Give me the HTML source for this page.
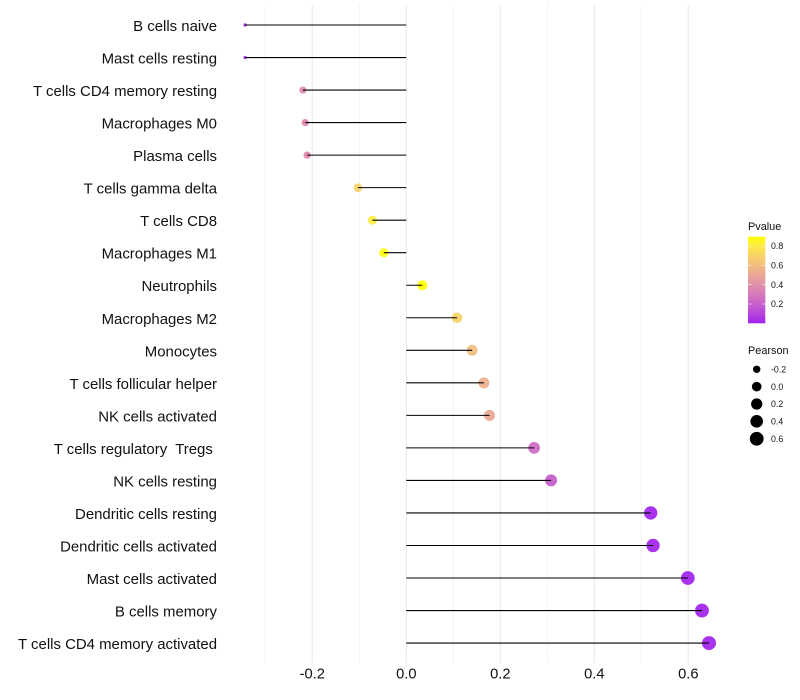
<!DOCTYPE html>
<html lang="en">
<head>
<meta charset="utf-8">
<title>Immune cell correlation lollipop chart</title>
<style>
html,body{margin:0;padding:0;background:#fff;}
#chart{display:block;width:800px;height:700px;font-family:"Liberation Sans",Arial,sans-serif;}
#chart text{white-space:pre;}
</style>
</head>
<body>
<svg id="chart" xmlns="http://www.w3.org/2000/svg" width="800" height="700" viewBox="0 0 800 700">
  <defs>
    <linearGradient id="pvalue-gradient" x1="0" y1="1" x2="0" y2="0"></linearGradient>
  </defs>
  <g id="grid"></g>
  <g id="points"></g>
  <g id="segments"></g>
  <g id="y-axis"></g>
  <g id="x-axis"></g>
  <g id="legend-p"></g>
  <g id="legend-s"></g>
</svg>
<script>
const categories = ["B cells naive","Mast cells resting","T cells CD4 memory resting","Macrophages M0","Plasma cells","T cells gamma delta","T cells CD8","Macrophages M1","Neutrophils","Macrophages M2","Monocytes","T cells follicular helper","NK cells activated","T cells regulatory  Tregs ","NK cells resting","Dendritic cells resting","Dendritic cells activated","Mast cells activated","B cells memory","T cells CD4 memory activated"];
const pearsonValues = [-0.343,-0.343,-0.220,-0.215,-0.211,-0.103,-0.072,-0.048,0.034,0.108,0.140,0.165,0.177,0.272,0.308,0.520,0.525,0.599,0.629,0.644];
const pValues = [0.03,0.03,0.37,0.37,0.37,0.70,0.82,0.89,0.90,0.70,0.60,0.54,0.50,0.24,0.19,0.005,0.005,0.003,0.003,0.003];
const xMajorTicks = [-0.2,0,0.2,0.4,0.6];
const xMinorTicks = [-0.3,-0.1,0.1,0.3,0.5];
const pLegendTicks = [0.2,0.4,0.6,0.8];
const sizeLegendValues = [-0.2,0,0.2,0.4,0.6];

const NS = "http://www.w3.org/2000/svg";
const xScale = v => 406.3 + 470 * v;
const yScale = i => 25 + 32.53 * i;
const pLegendY = p => 323.3 - 96.5 * p;
const sizeMin = -0.343, sizeMax = 0.644;
const radius = v => 1.7 + 5.3 * Math.sqrt(Math.max(0, (v - sizeMin) / (sizeMax - sizeMin)));

function lab2rgb(L, a, b) {
  const fy = (L + 16) / 116, fx = fy + a / 500, fz = fy - b / 200;
  const inv = t => t > 0.20689 ? t * t * t : (t - 16 / 116) / 7.787;
  const X = 0.95047 * inv(fx), Y = inv(fy), Z = 1.08883 * inv(fz);
  const lin = [3.2406 * X - 1.5372 * Y - 0.4986 * Z, -0.9689 * X + 1.8758 * Y + 0.0415 * Z, 0.0557 * X - 0.2040 * Y + 1.0570 * Z];
  const g = c => {
    c = Math.min(1, Math.max(0, c));
    return Math.round(255 * (c <= 0.0031308 ? 12.92 * c : 1.055 * Math.pow(c, 1 / 2.4) - 0.055));
  };
  return "rgb(" + lin.map(g).join(",") + ")";
}
function pColor(p) {
  const t = Math.min(1, Math.max(0, p / 0.9));
  return lab2rgb(45.35 + (97.14 - 45.35) * t, 78.2 + (-21.55 - 78.2) * t, -76.0 + (94.48 + 76.0) * t);
}
function make(tag, attrs, parent, txt) {
  const el = document.createElementNS(NS, tag);
  for (const k in attrs) el.setAttribute(k, attrs[k]);
  if (txt !== undefined) el.textContent = txt;
  parent.appendChild(el);
  return el;
}
const fmt = v => v.toFixed(1);
const gridG = document.getElementById("grid");
const pointsG = document.getElementById("points");
const segG = document.getElementById("segments");
const yG = document.getElementById("y-axis");
const xG = document.getElementById("x-axis");
const lp = document.getElementById("legend-p");
const ls = document.getElementById("legend-s");

xMinorTicks.forEach(v => {
  const el = make("line", {x1: xScale(v), x2: xScale(v), y1: 5, y2: 663, stroke: "#ebebeb", "stroke-width": 0.55}, gridG);
  
  
});
xMajorTicks.forEach(v => {
  const el = make("line", {x1: xScale(v), x2: xScale(v), y1: 5, y2: 663, stroke: "#ebebeb", "stroke-width": 1.07}, gridG);
  
  
  const lab = make("text", {x: xScale(v), y: 678.6, "text-anchor": "middle", "font-size": 14.67, fill: "#111"}, xG, fmt(v));
  
  
});
categories.forEach((c, i) => {
  const v = pearsonValues[i], y = yScale(i);
  const pt = make("circle", {cx: xScale(v), cy: y, r: radius(v), fill: pColor(pValues[i]), "fill-opacity": 0.93}, pointsG);
  
  
  const seg = make("line", {x1: xScale(0), x2: xScale(v), y1: y, y2: y, stroke: "#000", "stroke-width": 1.07}, segG);
  
  
  const lab = make("text", {x: 217, y: y + 6, "text-anchor": "end", "font-size": 14.95, fill: "#111"}, yG, c);
  
  
});

const grad = document.getElementById("pvalue-gradient");
const gradSteps = [0,1,2,3,4,5,6,7,8,9,10];
gradSteps.forEach(s => {
  make("stop", {offset: (s * 10) + "%", "stop-color": pColor(s * 0.09)}, grad);
});
const pTitle = make("text", {x: 748, y: 230, "font-size": 10.9, fill: "#111"}, lp, "Pvalue");


const bar = make("rect", {x: 748, y: 236.7, width: 17.3, height: 86.6, fill: "url(#pvalue-gradient)"}, lp);


pLegendTicks.forEach(p => {
  const y = pLegendY(p);
  const t1 = make("line", {x1: 748, x2: 751.5, y1: y, y2: y, stroke: "#fff", "stroke-width": 0.55}, lp);
  
  
  const t2 = make("line", {x1: 761.8, x2: 765.3, y1: y, y2: y, stroke: "#fff", "stroke-width": 0.55}, lp);
  
  
  const lab = make("text", {x: 771, y: y + 3.1, "font-size": 8.8, fill: "#111"}, lp, fmt(p));
  
  
});

const sTitle = make("text", {x: 748, y: 354, "font-size": 10.9, fill: "#111"}, ls, "Pearson");


const sizeLegendY = k => 369.3 + 17.35 * k;
sizeLegendValues.forEach((v, k) => {
  const y = sizeLegendY(k);
  const dot = make("circle", {cx: 756.7, cy: y, r: radius(v), fill: "#000"}, ls);
  
  
  const lab = make("text", {x: 771, y: y + 3.1, "font-size": 8.8, fill: "#111"}, ls, fmt(v));
  
  
});
</script>
</body>
</html>
